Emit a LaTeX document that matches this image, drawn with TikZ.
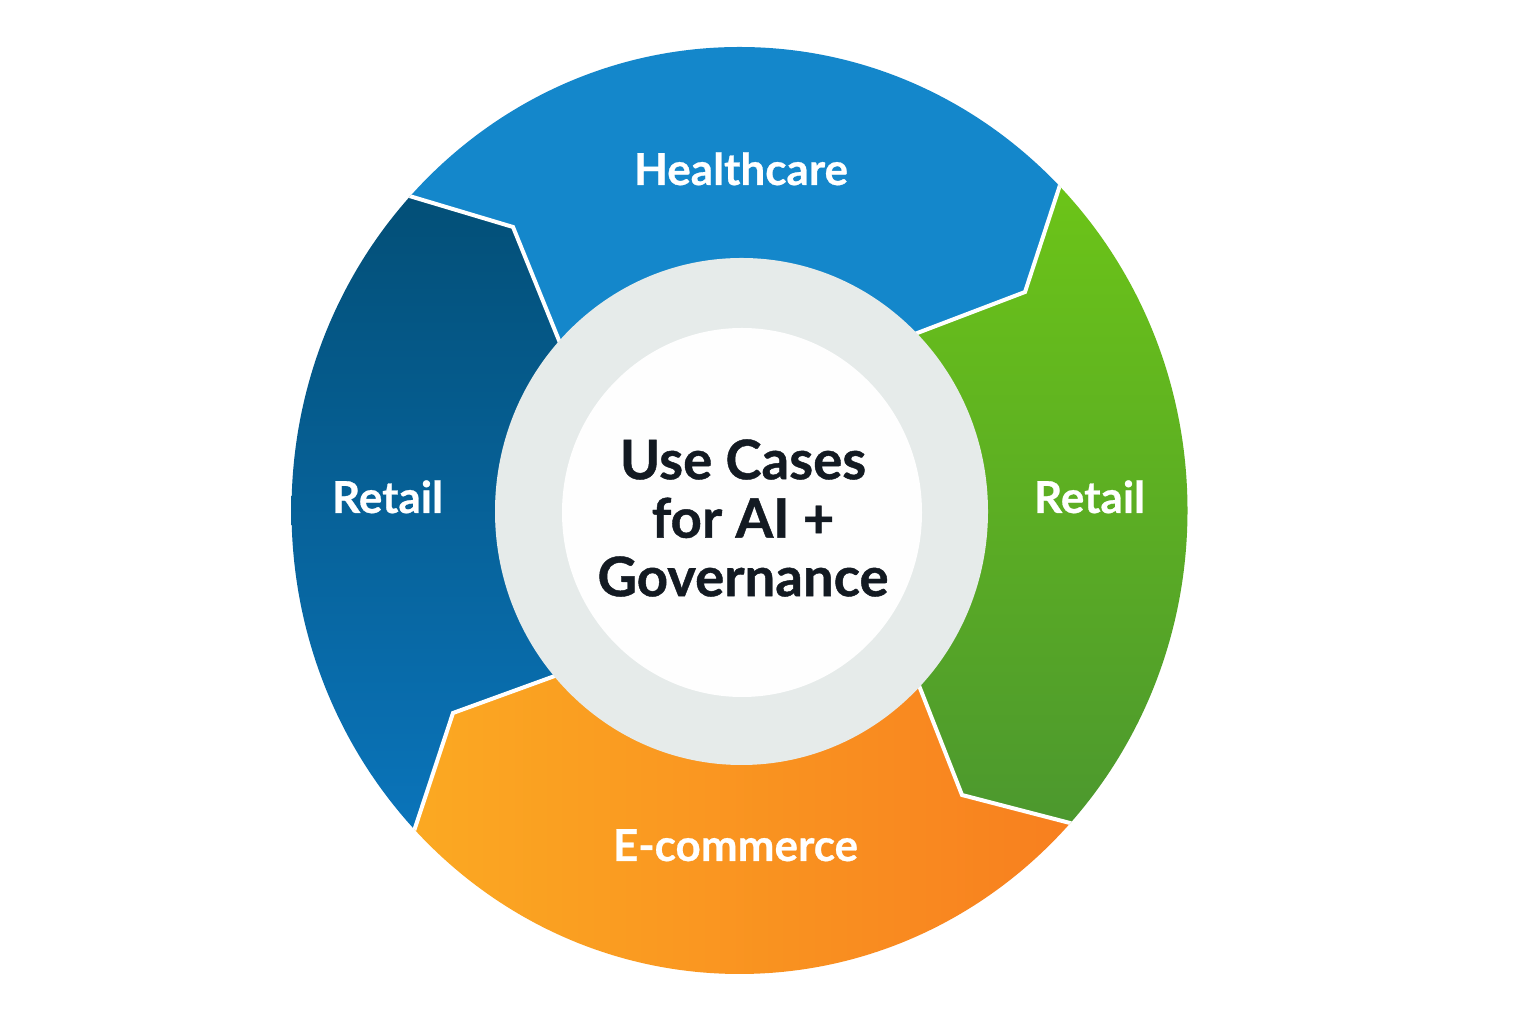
\documentclass[tikz,border=0pt]{standalone}
\usepackage{fontspec}
\setmainfont{Lato}
\definecolor{hcblue}{HTML}{1487CB}
\definecolor{rtopblue}{HTML}{034F77}
\definecolor{rbotblue}{HTML}{0A74BA}
\definecolor{gtop}{HTML}{6CC418}
\definecolor{gbot}{HTML}{4C982E}
\definecolor{oleft}{HTML}{FBA922}
\definecolor{oright}{HTML}{F87F1F}
\definecolor{ringgray}{HTML}{E6EBEA}
\definecolor{coretext}{HTML}{131A22}
\begin{document}
\begin{tikzpicture}[x=1pt,y=1pt,
  lbl/.style={text=white, font=\fontsize{44}{50}\selectfont\bfseries\addfontfeature{FakeBold=0.6}, inner sep=0pt, anchor=base},
  sepline/.style={draw=white, line width=4pt, line join=miter},
  coretxt/.style={text=coretext, font=\fontsize{54.5}{58.5}\selectfont\bfseries\addfontfeature{FakeBold=0.8}, align=center, inner sep=0pt}]
\useasboundingbox (0,0) rectangle (1536,1024);
\fill[white] (0,0) rectangle (1536,1024);
% key points
\coordinate (C) at (740,512);
\coordinate (O1) at (406,829); \coordinate (K1) at (513,797); \coordinate (I1) at (558,686);
\coordinate (E1) at (299,861); \coordinate (J1) at (571.5,652.7);
\coordinate (O2) at (1060,839); \coordinate (K2) at (1025,732); \coordinate (I2) at (920,692);
\coordinate (E2) at (1095,946); \coordinate (J2) at (888.5,680);
\coordinate (O3) at (1070,201); \coordinate (K3) at (962,229); \coordinate (I3) at (920,336);
\coordinate (E3) at (1178,173); \coordinate (J3) at (907.4,368);
\coordinate (O4) at (415,196); \coordinate (K4) at (453,311); \coordinate (I4) at (552,347);
\coordinate (E4) at (377,81); \coordinate (J4) at (581.7,357.8);
\begin{scope}
  \clip (739.5,513.5) ellipse [x radius=448, y radius=463.5];
  % Healthcare
  \fill[hcblue] (C) -- (I1) -- (K1) -- (O1) -- (E1) -- (200,1100) -- (1300,1100) -- (E2) -- (O2) -- (K2) -- (I2) -- cycle;
  % left Retail
  \begin{scope}
    \clip (C) -- (I1) -- (K1) -- (O1) -- (E1) -- (0,900) -- (0,100) -- (E4) -- (O4) -- (K4) -- (I4) -- cycle;
    \shade[top color=rtopblue, bottom color=rbotblue] (280,196) rectangle (760,830);
  \end{scope}
  % right Retail
  \begin{scope}
    \clip (C) -- (I2) -- (K2) -- (O2) -- (E2) -- (1536,1000) -- (1536,150) -- (E3) -- (O3) -- (K3) -- (I3) -- cycle;
    \shade[top color=gtop, bottom color=gbot] (720,200) rectangle (1200,840);
  \end{scope}
  % E-commerce
  \begin{scope}
    \clip (C) -- (I3) -- (K3) -- (O3) -- (E3) -- (1300,-100) -- (200,-100) -- (E4) -- (O4) -- (K4) -- (I4) -- cycle;
    \shade[left color=oleft, right color=oright] (412,40) rectangle (1075,520);
  \end{scope}
  % separators
  \draw[sepline] (J1) -- (K1) -- (E1);
  \draw[sepline] (J2) -- (K2) -- (E2);
  \draw[sepline] (J3) -- (K3) -- (E3);
  \draw[sepline] (J4) -- (K4) -- (E4);
\end{scope}
% hub
\fill[ringgray] (741.5,512.5) ellipse [x radius=246.5, y radius=253.5];
\fill[white!99!gray] (742,511.5) ellipse [x radius=180, y radius=184.5];
% labels
\node[lbl] (hc) at (741,839) {Healthcare};
\node[lbl] (rl) at (387.5,511) {Retail};
\node[lbl] (rr) at (1089.5,511) {Retail};
\node[lbl] (ec) at (735.5,163) {E-commerce};
\node[coretxt] (core) at (743,506) {Use Cases\\for AI +\\Governance};
\end{tikzpicture}
\end{document}
